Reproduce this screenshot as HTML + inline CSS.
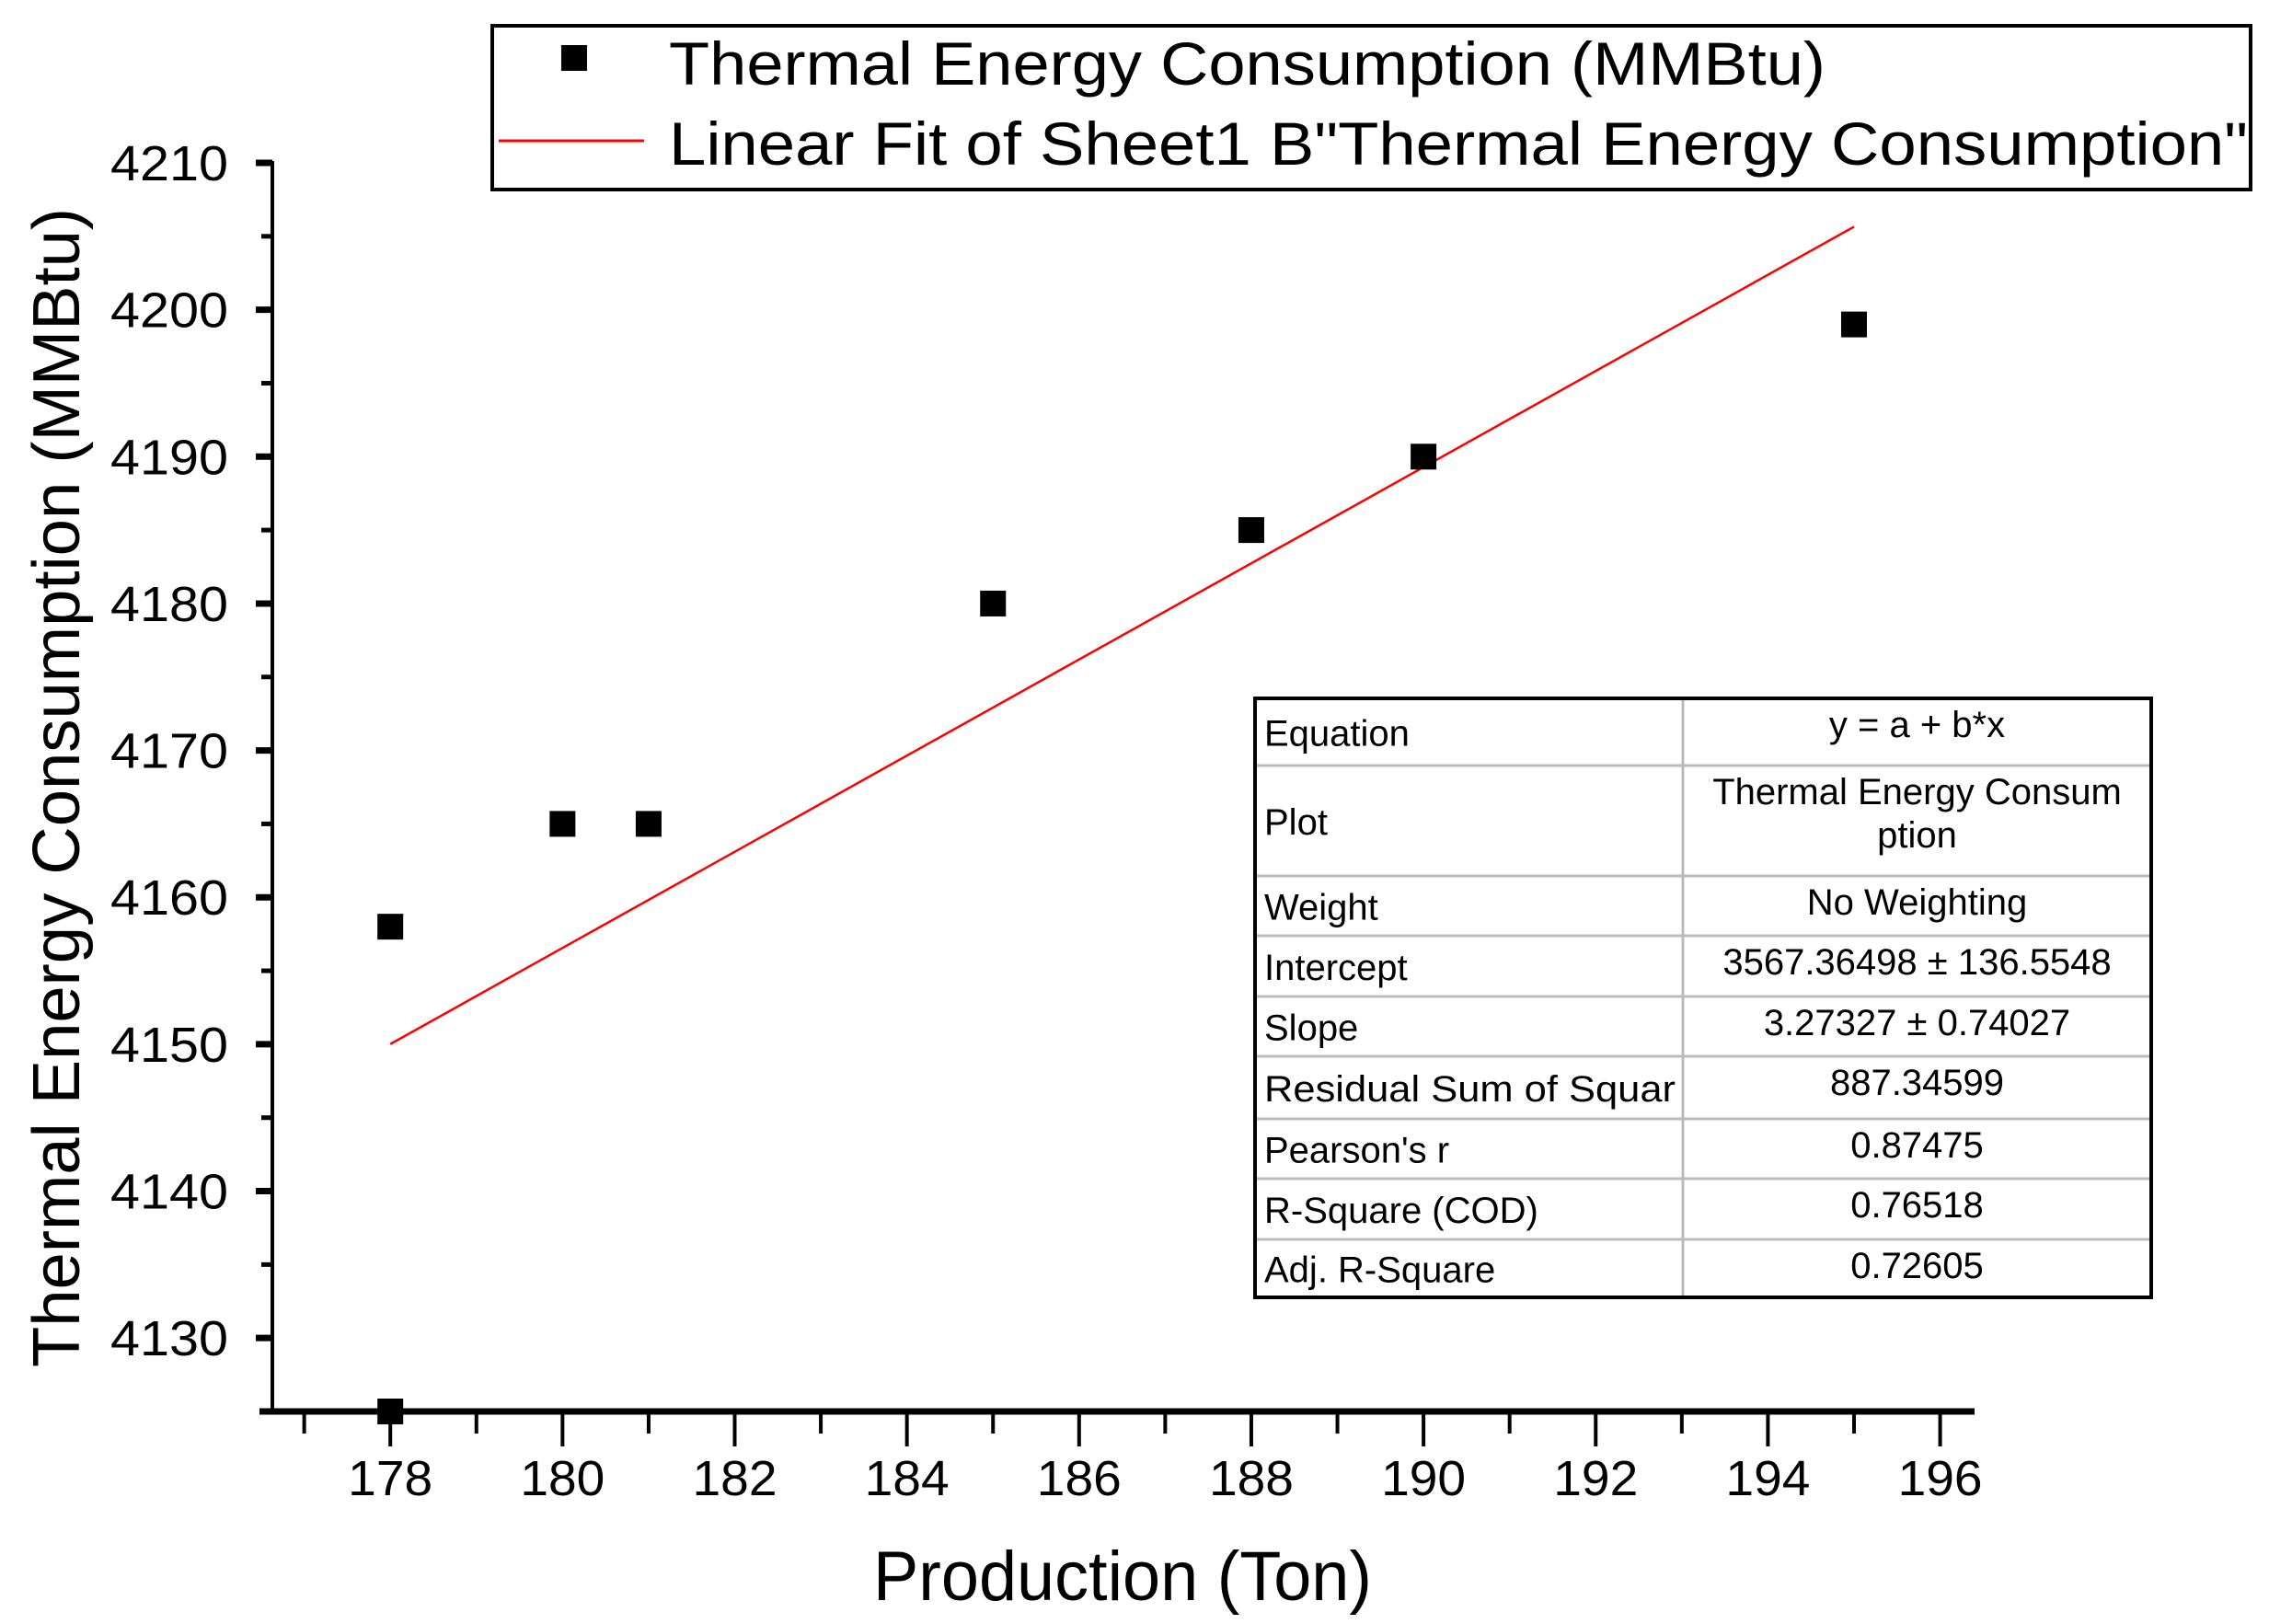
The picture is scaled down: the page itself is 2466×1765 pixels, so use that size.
<!DOCTYPE html>
<html><head><meta charset="utf-8"><style>
html,body{margin:0;padding:0;background:#fff}
svg{display:block;font-family:"Liberation Sans",Arial,sans-serif}
</style></head><body>
<svg id="chart" width="2466" height="1765" viewBox="0 0 2466 1765" xmlns="http://www.w3.org/2000/svg">
<g id="axes"></g>
<g id="marks"></g>
<g id="legend">
 <rect x="535" y="28" width="1911" height="178" fill="#fff" stroke="#000" stroke-width="4"/>
 <rect x="610" y="49" width="28" height="28" fill="#000"/>
 <text x="727" y="92" font-size="66" textLength="1257" lengthAdjust="spacingAndGlyphs">Thermal Energy Consumption (MMBtu)</text>
 <line x1="542" y1="153" x2="700" y2="153" stroke="#f00" stroke-width="3"/>
 <text x="727" y="179" font-size="66" textLength="1716" lengthAdjust="spacingAndGlyphs">Linear Fit of Sheet1 B"Thermal Energy Consumption"</text>
</g>
<g id="table"></g>
<text x="1220" y="1739" font-size="76" text-anchor="middle" textLength="542" lengthAdjust="spacingAndGlyphs">Production (Ton)</text>
<text transform="translate(86,856) rotate(-90)" font-size="72" text-anchor="middle" textLength="1260" lengthAdjust="spacingAndGlyphs">Thermal Energy Consumption (MMBtu)</text>
</svg>
<script>
const xs = [178, 178, 180, 181, 185, 188, 190, 195];
const ys = [4158, 4125, 4165, 4165, 4180, 4185, 4190, 4199];
const fitIntercept = 3567.36498;
const fitSlope = 3.27327;
const fitRange = [178, 195];
const xTickLabels = [178,180,182,184,186,188,190,192,194,196];
const yTickLabels = [4130,4140,4150,4160,4170,4180,4190,4200,4210];
const tableLabels = ["Equation","Plot","Weight","Intercept","Slope","Residual Sum of Squar","Pearson's r","R-Square (COD)","Adj. R-Square"];
const tableValues = [["y = a + b*x"],["Thermal Energy Consum","ption"],["No Weighting"],["3567.36498 ± 136.5548"],["3.27327 ± 0.74027"],["887.34599"],["0.87475"],["0.76518"],["0.72605"]];

const NS="http://www.w3.org/2000/svg";
const L=296,R=2146,T=177,B=1534;
const xMin=176.63,xMax=196.4,yMin=4125,yMax=4210;
const X=v=>L+(v-xMin)/(xMax-xMin)*(R-L);
const Y=v=>B-(v-yMin)/(yMax-yMin)*(B-T);
function mk(tag,attrs,parent){const e=document.createElementNS(NS,tag);for(const k in attrs)e.setAttribute(k,attrs[k]);parent.appendChild(e);return e;}
const axes=document.getElementById('axes'),marks=document.getElementById('marks'),table=document.getElementById('table');

let e=mk('line',{x1:L,y1:T-2,x2:L,y2:B,stroke:'#000','stroke-width':4},axes);


e=mk('line',{x1:L-14,y1:B,x2:R,y2:B,stroke:'#000','stroke-width':7},axes);



for(let v=177;v<=196;v++){
  const major=(v%2===0);
  e=mk('line',{x1:X(v),y1:B,x2:X(v),y2:B+(major?38:24),stroke:'#000','stroke-width':4},axes);
  
  
}
xTickLabels.forEach(v=>{
  e=mk('text',{x:X(v),y:1625,'font-size':54,'text-anchor':'middle',textLength:92,lengthAdjust:'spacingAndGlyphs'},axes);
  e.textContent=v;
  
  
});
for(let v=4130;v<=4210;v+=5){
  const major=(v%10===0);
  e=mk('line',{x1:L-(major?18:12),y1:Y(v),x2:L,y2:Y(v),stroke:'#000','stroke-width':major?7:5},axes);
  
  
}
yTickLabels.forEach(v=>{
  e=mk('text',{x:248,y:Y(v)+19,'font-size':54,'text-anchor':'end',textLength:128,lengthAdjust:'spacingAndGlyphs'},axes);
  e.textContent=v;
  
  
});

e=mk('line',{x1:X(fitRange[0]),y1:Y(fitIntercept+fitSlope*fitRange[0]),x2:X(fitRange[1]),y2:Y(fitIntercept+fitSlope*fitRange[1]),stroke:'#f00','stroke-width':2.5},marks);


xs.forEach((x,i)=>{
  e=mk('rect',{x:X(x)-14,y:Y(ys[i])-14,width:28,height:28,fill:'#000'},marks);
  
  
});

// table
const tL=1364,tR=2338,tMid=1829;
const rows=[759,832,952,1017,1083,1148,1216,1281,1347,1410];
mk('rect',{x:tL,y:rows[0],width:tR-tL,height:rows[9]-rows[0],fill:'#fff'},table);
for(let i=1;i<rows.length-1;i++){
  e=mk('line',{x1:tL,y1:rows[i],x2:tR,y2:rows[i],stroke:'#bbb','stroke-width':3},table);
  
  
}
e=mk('line',{x1:tMid,y1:rows[0],x2:tMid,y2:rows[9],stroke:'#bbb','stroke-width':3},table);


e=mk('rect',{x:tL,y:rows[0],width:tR-tL,height:rows[9]-rows[0],fill:'none',stroke:'#000','stroke-width':4},table);


tableLabels.forEach((lab,i)=>{
  const c=(rows[i]+rows[i+1])/2;
  e=mk('text',{x:1374,y:c+15,'font-size':40},table);
  e.textContent=lab;
  if(lab.startsWith('Residual')){e.setAttribute('textLength',447);e.setAttribute('lengthAdjust','spacingAndGlyphs');}
  
  
  tableValues[i].forEach((val,j)=>{
    const t=mk('text',{x:(tMid+tR)/2,y:rows[i]+42+j*47,'font-size':40,'text-anchor':'middle'},table);
    t.textContent=val;
    
    
  });
});
</script>
</body></html>
